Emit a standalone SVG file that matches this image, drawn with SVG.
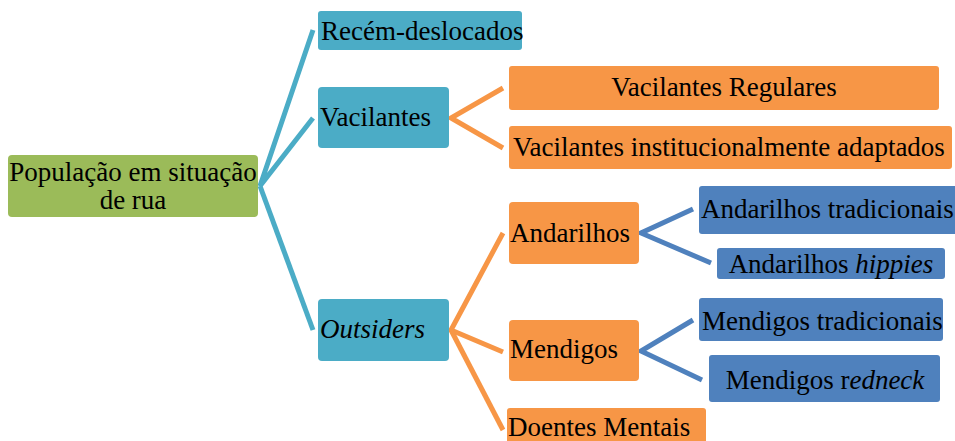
<svg xmlns="http://www.w3.org/2000/svg" width="955" height="441" viewBox="0 0 955 441">
<defs>
<style>
.g{fill:#9BBB59}
.t{fill:#4BACC6}
.o{fill:#F79646}
.b{fill:#4F81BD}
.lbl{font-family:'Liberation Serif',serif;font-size:27px;fill:#000}
</style>
</defs>
<rect width="955" height="441" fill="#fff"/>
<g id="connectors" fill="none" stroke-width="5" stroke-linejoin="miter">
<polyline stroke="#4BACC6" points="313,30 260,186 313,118"/>
<polyline stroke="#4BACC6" points="260,186 313,330"/>
<polyline stroke="#F79646" points="503,88 451,118 503,148"/>
<polyline stroke="#F79646" points="503,233 451,330 503,352"/>
<polyline stroke="#F79646" points="451,330 503,430"/>
<polyline stroke="#4F81BD" points="693,209 641,233 711,263"/>
<polyline stroke="#4F81BD" points="693,320 641,351 702,380"/>
</g>
<g id="root"><rect class="g" x="8" y="155" width="250" height="62" rx="4"/><text class="lbl" x="133" y="181" text-anchor="middle">População em situação</text><text class="lbl" x="133" y="209" text-anchor="middle">de rua</text></g>
<g id="recem"><rect class="t" x="318" y="11" width="204" height="39" rx="3"/><text class="lbl" x="321" y="40">Recém-deslocados</text></g>
<g id="vacilantes"><rect class="t" x="318" y="87" width="131" height="61" rx="4"/><text class="lbl" x="320" y="126">Vacilantes</text></g>
<g id="outsiders"><rect class="t" x="318" y="299" width="131" height="62" rx="4"/><text class="lbl" x="320" y="338" font-style="italic">Outsiders</text></g>
<g id="vac-regulares"><rect class="o" x="509" y="66" width="430" height="44" rx="3"/><text class="lbl" x="724" y="96" text-anchor="middle">Vacilantes Regulares</text></g>
<g id="vac-inst"><rect class="o" x="509" y="126" width="443" height="43" rx="3"/><text class="lbl" x="513" y="156">Vacilantes institucionalmente adaptados</text></g>
<g id="andarilhos"><rect class="o" x="509" y="202" width="130" height="62" rx="4"/><text class="lbl" x="510" y="242">Andarilhos</text></g>
<g id="mendigos"><rect class="o" x="509" y="320" width="130" height="61" rx="4"/><text class="lbl" x="510" y="358">Mendigos</text></g>
<g id="doentes"><rect class="o" x="507" y="408" width="199" height="40" rx="3"/><text class="lbl" x="508" y="436">Doentes Mentais</text></g>
<g id="and-trad"><rect class="b" x="699" y="186" width="260" height="48" rx="3"/><text class="lbl" x="701" y="218">Andarilhos tradicionais</text></g>
<g id="and-hip"><rect class="b" x="717" y="248" width="228" height="31" rx="3"/><text class="lbl" x="831" y="273" text-anchor="middle">Andarilhos <tspan font-style="italic">hippies</tspan></text></g>
<g id="men-trad"><rect class="b" x="699" y="298" width="244" height="43" rx="3"/><text class="lbl" x="702" y="330">Mendigos tradicionais</text></g>
<g id="men-red"><rect class="b" x="709" y="355" width="231" height="47" rx="3"/><text class="lbl" x="825" y="389" text-anchor="middle">Mendigos r<tspan font-style="italic">edneck</tspan></text></g>
</svg>
